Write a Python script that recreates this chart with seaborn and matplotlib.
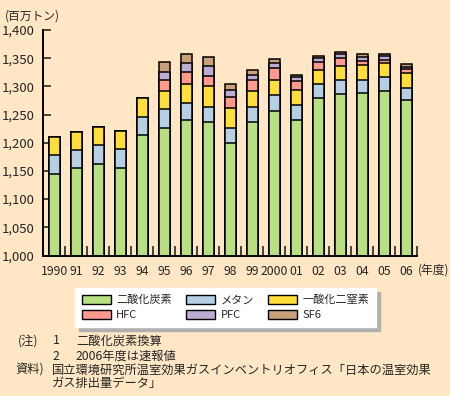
import matplotlib
matplotlib.use("Agg")
import matplotlib.pyplot as plt
import matplotlib.patches as mpatches
from matplotlib.ticker import StrMethodFormatter, FixedLocator
import seaborn as sns
import pandas as pd
import numpy as np

# 年度と温室効果ガス排出量（百万トン、二酸化炭素換算）
years = ["1990", "91", "92", "93", "94", "95", "96", "97", "98", "99",
         "2000", "01", "02", "03", "04", "05", "06"]
co2 = [1144, 1155, 1162, 1155, 1213, 1227, 1240, 1236, 1199, 1236,
       1256, 1240, 1279, 1286, 1288, 1291, 1275]
ch4 = [34, 32, 34, 34, 32, 32, 30, 28, 28, 27, 28, 27, 25, 25, 23, 25, 23]
n2o = [32, 32, 32, 32, 34, 32, 35, 36, 34, 28, 28, 26, 25, 25, 27, 25, 25]
hfc = [0, 0, 0, 0, 0, 20, 20, 19, 20, 20, 20, 16, 14, 14, 7, 5, 7]
pfc = [0, 0, 0, 0, 0, 15, 16, 17, 12, 9, 9, 7, 7, 7, 7, 7, 5]
sf6 = [0, 0, 0, 0, 0, 18, 16, 16, 12, 9, 7, 5, 4, 4, 5, 4, 5]

gases = ["二酸化炭素", "メタン", "一酸化二窒素", "HFC", "PFC", "SF6"]
colors = ["#b8e083", "#b5cfe3", "#ffdd3a", "#ff9a8c", "#bcacd3", "#c9a07a"]
bg = "#ffe6c4"

df = pd.DataFrame({"year": years, "二酸化炭素": co2, "メタン": ch4,
                   "一酸化二窒素": n2o, "HFC": hfc, "PFC": pfc, "SF6": sf6})
cum = df[gases].cumsum(axis=1)

sns.set_style("white")
plt.rcParams["font.family"] = ["Noto Sans CJK JP", "DejaVu Sans"]

fig = plt.figure(figsize=(4.5, 3.96), dpi=100, facecolor=bg)
ax = fig.add_axes([43 / 450, 1 - 255.5 / 396, 374 / 450, 225.5 / 396])
ax.set_facecolor(bg)

# 累積値を上から順に重ねて描く
for gas, col in zip(gases[::-1], colors[::-1]):
    sns.barplot(x=df["year"], y=cum[gas], color=col, width=0.5,
                edgecolor="black", linewidth=1.1, ax=ax, saturation=1)

ax.set_ylim(1000, 1400)
ax.set_xlim(-0.5, 16.5)
ax.set_yticks(range(1000, 1401, 50))
ax.yaxis.set_major_formatter(StrMethodFormatter("{x:,.0f}"))
ax.set_xlabel("")
ax.set_ylabel("")
ax.tick_params(axis="y", direction="in", length=6, width=1.2, labelsize=9.5,
               pad=6, left=True)
ax.tick_params(axis="x", which="major", length=0, labelsize=8.8, pad=7)
ax.xaxis.set_minor_locator(FixedLocator(np.arange(-0.5, 16.6, 1.0)))
ax.tick_params(axis="x", which="minor", direction="in", length=7, width=1.2,
               bottom=True)
for s in ["top", "right"]:
    ax.spines[s].set_visible(False)
for s in ["left", "bottom"]:
    ax.spines[s].set_color("black")
    ax.spines[s].set_linewidth(1.4)

fig.text(5 / 450, 1 - 16 / 396, "(百万トン)", fontsize=8.5, va="center")
fig.text(418 / 450, 1 - 270 / 396, "(年度)", fontsize=8.5, va="center",
         ha="left")

handles = [mpatches.Patch(facecolor=c, edgecolor="black", linewidth=1, label=g)
           for g, c in zip(gases, colors)]
order = [0, 3, 1, 4, 2, 5]
leg = fig.legend([handles[i] for i in order], [gases[i] for i in order],
                 ncol=3, loc="lower left", mode="expand",
                 bbox_to_anchor=(75 / 450, 1 - 327 / 396, 301 / 450, 41 / 396),
                 fontsize=8, frameon=True, fancybox=False, framealpha=1,
                 facecolor="white", edgecolor="white", borderaxespad=0,
                 handlelength=2.6, handleheight=0.75, handletextpad=0.5,
                 columnspacing=1.0, labelspacing=0.45, borderpad=0.6,
                 shadow={"ox": 3, "oy": -3, "color": "#b0b0b0", "alpha": 1})

notes = [
    (18, 341, "(注)"), (53, 341, "1"), (76, 341, "二酸化炭素換算"),
    (53, 356, "2"), (76, 356, "2006年度は速報値"),
    (15, 370, "資料)"),
    (52, 370, "国立環境研究所温室効果ガスインベントリオフィス「日本の温室効果"),
    (52, 384, "ガス排出量データ」"),
]
for x, y, t in notes:
    fig.text(x / 450, 1 - y / 396, t, fontsize=8.8, va="center", ha="left")

fig.savefig("out.png", dpi=100, facecolor=bg)
